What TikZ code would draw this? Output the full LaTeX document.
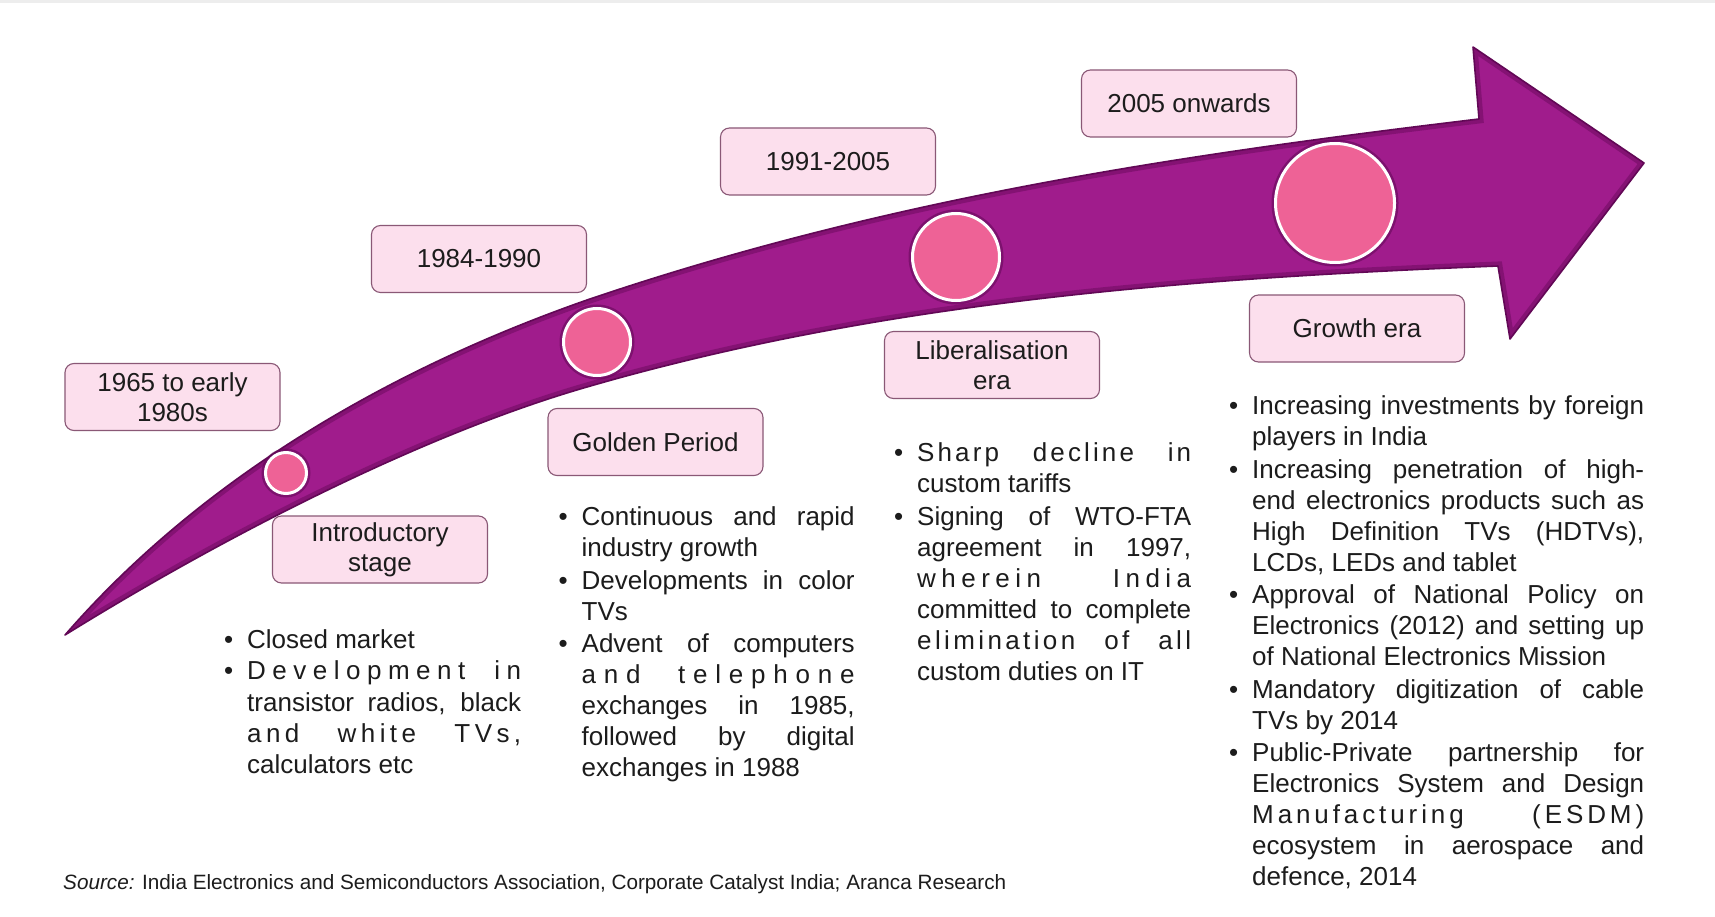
\documentclass[tikz,border=0pt]{standalone}
\usepackage{fontspec}
\setmainfont{Liberation Sans}

\definecolor{arrowpurple}{RGB}{160,28,140}
\definecolor{arrowshade}{RGB}{98,8,86}
\definecolor{dotpink}{RGB}{238,98,150}
\definecolor{boxpink}{RGB}{252,223,237}
\definecolor{boxline}{RGB}{138,88,118}
\definecolor{textgray}{RGB}{28,28,28}

% bullet item: bullet, then a justified block
\newcommand{\bul}[1]{\noindent\makebox[23pt][l]{\strut\textbullet}%
    \parbox[t]{\dimexpr\hsize-23pt\relax}{\spaceskip=0pt\xspaceskip=0pt\rightskip=0pt
    \tolerance=10000\hbadness=10000\strut#1\strut}\par}
% letter-spaced line
\newcommand{\ls}[2]{{\addfontfeature{LetterSpace=#1}#2}}
% outline of the curved arrow
\newcommand{\arrowbody}{(tail) .. controls (215,462.5) and (417,359.5) .. (upbend)
    .. controls (887,198) and (1179,155) .. (upneck) -- (upbarb) -- (tip) -- (lobarb) -- (loneck)
    .. controls (1198,278) and (887,300) .. (lobend)
    .. controls (417,436) and (215,542) .. (tail) -- cycle}

\begin{document}
\begin{tikzpicture}[x=1pt, y=-1pt,
    era/.style={draw=boxline, line width=1.1pt, fill=boxpink, rounded corners=9pt,
        minimum width=215pt, minimum height=67pt, inner sep=2pt, align=center,
        text=textgray, font=\fontsize{26}{30}\selectfont},
    dot/.style={circle, inner sep=0pt, fill=dotpink, draw=white, line width=3pt,
        preaction={draw=arrowshade, line width=8pt, opacity=0.55}},
    notes/.style={anchor=north west, inner sep=0pt, text=textgray,
        font=\fontsize{26}{31.15}\selectfont}]

    \fill[white] (0,0) rectangle (1715,917);
    \useasboundingbox (0,0) rectangle (1715,917);
    \fill[black!7] (0,0) rectangle (1715,3);

    \coordinate (tail) at (65,635);
    \coordinate (upbend) at (587,300);
    \coordinate (upneck) at (1479,119);
    \coordinate (upbarb) at (1473,47);
    \coordinate (tip) at (1644,163);
    \coordinate (lobarb) at (1510,339);
    \coordinate (loneck) at (1498,266);
    \coordinate (lobend) at (587,387);

    % arrow
    \fill[arrowpurple] \arrowbody;
    \begin{scope}
        \clip \arrowbody;
        \draw[arrowshade, line width=9pt, opacity=0.45] \arrowbody;
    \end{scope}
    \draw[arrowshade, line width=1.6pt, line join=round] \arrowbody;

    % milestones
    \node[dot, minimum size=41pt] (d1) at (286,473) {};
    \node[dot, minimum size=67pt] (d2) at (597,342) {};
    \node[dot, minimum size=87pt] (d3) at (956,257) {};
    \node[dot, minimum size=119pt] (d4) at (1335,203) {};

    \node[era] (y1) at (172.5,397) {1965 to early\\1980s};
    \node[era] (y2) at (479,259) {1984-1990};
    \node[era] (y3) at (828,161.5) {1991-2005};
    \node[era] (y4) at (1189,103.5) {2005 onwards};

    \node[era] (s1) at (380,549.5) {Introductory\\stage};
    \node[era] (s2) at (655.5,442) {Golden Period};
    \node[era] (s3) at (992,365) {Liberalisation\\era};
    \node[era] (s4) at (1357,328.5) {Growth era};

    \node[notes, text width=297pt] (n1) at (224,626.7) {%
        \bul{Closed market}
        \bul{\ls{25}{Development in}\linebreak transistor radios, black\linebreak \ls{17}{and white TVs,}\linebreak calculators etc}};
    \node[notes, text width=296pt] (n2) at (558.5,503.7) {%
        \bul{Continuous and rapid\linebreak industry growth}
        \bul{Developments in color\linebreak TVs}
        \bul{Advent of computers\linebreak \ls{30}{and telephone}\linebreak exchanges in 1985,\linebreak followed by digital\linebreak exchanges in 1988}};
    \node[notes, text width=297pt] (n3) at (894,439.7) {%
        \bul{\ls{12}{Sharp decline in}\linebreak custom tariffs}
        \bul{Signing of WTO-FTA\linebreak agreement in 1997,\linebreak \ls{21}{wherein India}\linebreak committed to complete\linebreak \ls{13}{elimination of all}\linebreak custom duties on IT}};
    \node[notes, text width=415pt] (n4) at (1229,392.7) {%
        \bul{Increasing investments by foreign\linebreak players in India}
        \bul{Increasing penetration of high-\linebreak end electronics products such as\linebreak High Definition TVs (HDTVs),\linebreak LCDs, LEDs and tablet}
        \bul{Approval of National Policy on\linebreak Electronics (2012) and setting up\linebreak of National Electronics Mission}
        \bul{Mandatory digitization of cable\linebreak TVs by 2014}
        \bul{Public-Private partnership for\linebreak Electronics System and Design\linebreak \ls{15}{Manufacturing (ESDM)}\linebreak ecosystem in aerospace and\linebreak defence, 2014}};

    \node[anchor=base west, inner sep=0pt, text=textgray, font=\fontsize{20.7}{24}\selectfont] (src)
        at (63,889) {\textit{Source:} India Electronics and Semiconductors Association, Corporate Catalyst India; Aranca Research};
\end{tikzpicture}
\end{document}
